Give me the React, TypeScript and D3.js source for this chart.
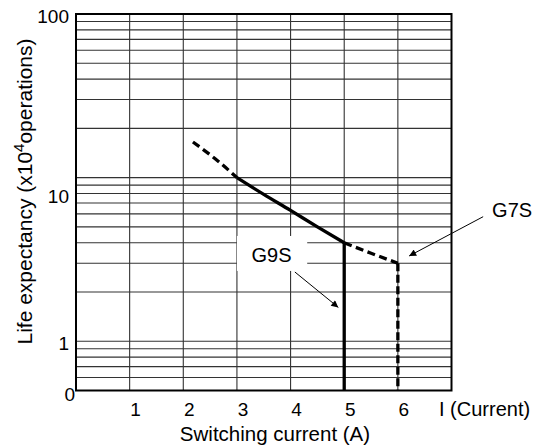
import React from "react";
import * as d3 from "d3";

// Tick / grid values
const xTickValues = [1, 2, 3, 4, 5, 6];
const xGridValues = [1, 2, 3, 4, 5, 6];
const yGridValues = [0.6, 0.7, 0.8, 0.9, 1, 2, 3, 4, 5, 6, 7, 8, 9, 10, 20, 30, 40, 50, 60, 70, 80, 90];
const yTickValues = [100, 10, 1, 0.5];
const yTickText = ["100", "10", "1", "0"];

// Curves (switching current A, life x10^4 operations)
const g9sDashX = [2.18, 2.6, 3];
const g9sDashY = [16.5, 13.0, 10];
const g9sSolidX = [3, 3.5, 4, 4.5, 5];
const g9sSolidY = [10, 7.9, 6.3, 5.0, 4.0];
const g7sX = [5, 5.5, 6];
const g7sY = [4.0, 3.45, 3.0];
const g9sLimit = 5;
const g7sLimit = 6;

const W = 536;
const H = 446;
const left = 76;
const right = 451.5;
const top = 14;
const bottom = 390.5;

export default function App() {
  const x = d3.scaleLinear().domain([0, 7]).range([left, right]);
  const y = d3.scaleLog().domain([0.5, 100]).range([bottom, top]);

  const line = d3
    .line<[number, number]>()
    .x((d) => x(d[0]))
    .y((d) => y(d[1]))
    .curve(d3.curveMonotoneX);

  const zip = (xs: number[], ys: number[]) => xs.map((v, i) => [v, ys[i]] as [number, number]);

  const font = "'Liberation Sans', Arial, Helvetica, sans-serif";
  const grid = "#333";

  const g9sEndY = g9sSolidY[g9sSolidY.length - 1];
  const g7sEndY = g7sY[g7sY.length - 1];

  return (
    <svg
      width={W}
      height={H}
      style={{ position: "absolute", left: 0, top: 0, background: "#fff" }}
      fontFamily={font}
    >
      <defs>
        <marker id="ah" viewBox="0 0 10 10" refX="10" refY="5" markerWidth="9" markerHeight="7" markerUnits="userSpaceOnUse" orient="auto">
          <path d="M0,0 L10,5 L0,10 z" fill="#000" />
        </marker>
      </defs>
      <rect x={0} y={0} width={W} height={H} fill="#fff" />

      {/* grid */}
      {yGridValues.map((v) => (
        <line key={"yg" + v} x1={left} x2={right} y1={y(v)} y2={y(v)} stroke={grid} strokeWidth={1.1} />
      ))}
      {xGridValues.map((v) => (
        <line key={"xg" + v} x1={x(v)} x2={x(v)} y1={top} y2={bottom} stroke={grid} strokeWidth={1.1} />
      ))}

      {/* white box behind G9S label */}
      <rect x={x(3.0)} y={y(4.4)} width={x(4.31) - x(3.0)} height={y(2.69) - y(4.4)} fill="#fff" />

      {/* frame */}
      <rect x={left} y={top} width={right - left} height={bottom - top} fill="none" stroke="#000" strokeWidth={2} />

      {/* curves */}
      <path d={line(zip(g9sDashX, g9sDashY)) || ""} fill="none" stroke="#000" strokeWidth={3.3} strokeDasharray="8,4.5" />
      <path d={line(zip(g9sSolidX, g9sSolidY)) || ""} fill="none" stroke="#000" strokeWidth={3.3} />
      <line x1={x(g9sLimit)} x2={x(g9sLimit)} y1={y(g9sEndY)} y2={y(0.5)} stroke="#000" strokeWidth={3.3} />
      <path d={line(zip(g7sX, g7sY)) || ""} fill="none" stroke="#000" strokeWidth={3.3} strokeDasharray="8,4.5" />
      <line x1={x(g7sLimit)} x2={x(g7sLimit)} y1={y(g7sEndY)} y2={y(0.5)} stroke="#000" strokeWidth={3.3} strokeDasharray="8,3.5" />

      {/* annotations */}
      <text x={x(3.645)} y={y(3.05)} fontSize={20} textAnchor="middle" fill="#000">G9S</text>
      <line x1={x(4.08)} y1={y(2.65)} x2={x(4.89)} y2={y(1.61)} stroke="#000" strokeWidth={1} markerEnd="url(#ah)" />
      <text x={x(8.13)} y={y(5.74)} fontSize={20} textAnchor="middle" fill="#000">G7S</text>
      <line x1={x(7.59)} y1={y(5.77)} x2={x(6.21)} y2={y(3.32)} stroke="#000" strokeWidth={1} markerEnd="url(#ah)" />

      {/* x tick labels */}
      {xTickValues.map((v) => (
        <text key={"xt" + v} x={x(v) + 6} y={409} fontSize={19} textAnchor="middle" dominantBaseline="central" fill="#000">
          {v}
        </text>
      ))}
      <text x={439} y={409} fontSize={20} dominantBaseline="central" fill="#000">I (Current)</text>

      {/* y tick labels */}
      {yTickValues.map((v, i) => (
        <text
          key={"yt" + v}
          x={v === 0.5 ? 75 : 69}
          y={y(v) + (v === 10 ? 19 : v === 0.5 ? 4 : 2)}
          fontSize={19}
          textAnchor="end"
          dominantBaseline="central"
          fill="#000"
        >
          {yTickText[i]}
        </text>
      ))}

      {/* axis titles */}
      <text x={275} y={441} fontSize={20.5} textAnchor="middle" fill="#000">Switching current (A)</text>
      <text transform={`translate(31.5,191.5) rotate(-90)`} fontSize={21} textAnchor="middle" fill="#000">
        Life expectancy (x10<tspan dy={-8} fontSize={15}>4</tspan><tspan dy={8}>operations)</tspan>
      </text>
    </svg>
  );
}
